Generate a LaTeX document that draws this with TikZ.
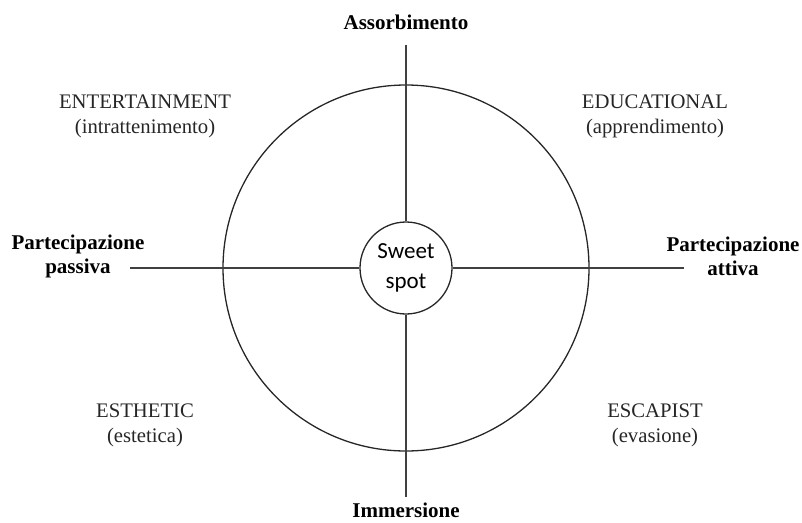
\documentclass[tikz,border=0pt]{standalone}
\usepackage{fontspec}
\setmainfont{Liberation Serif}
\newfontfamily\labelsans{Carlito}
\begin{document}
\begin{tikzpicture}[x=1pt,y=-1pt,
  axis/.style={draw=black!75, line width=1.3pt},
  ring/.style={draw=black!85, line width=1.3pt},
  quadrant/.style={align=center, font=\fontsize{20.7}{25}\selectfont, text=black!85},
  pole/.style={align=center, font=\fontsize{21}{24}\selectfont\bfseries, text=black},
]
\useasboundingbox (0,0) rectangle (802,522);
\coordinate (O) at (406,268);
% axes
\coordinate (top) at (406,45);
\coordinate (bot) at (406,497);
\coordinate (lft) at (130,268);
\coordinate (rgt) at (684,268);
\draw[ring] (O) circle[radius=183];
\node[circle, ring, fill=white, minimum size=92pt, inner sep=0pt, align=center,
      font=\labelsans\fontsize{23}{30}\selectfont] (sweet) at (O) {Sweet\\spot};
\draw[axis] (top) -- (sweet.north);
\draw[axis] (sweet.south) -- (bot);
\draw[axis] (lft) -- (sweet.west);
\draw[axis] (sweet.east) -- (rgt);
% pole labels
\node[pole] (assorb) at (406,22) {Assorbimento};
\node[pole] (immers) at (406,510) {Immersione};
\node[pole] (passiva) at (78,256) {Partecipazione\\passiva};
\node[pole] (attiva) at (733,256) {Partecipazione\\attiva};
% quadrant labels
\node[quadrant] (ent) at (145,116) {ENTERTAINMENT\\(intrattenimento)};
\node[quadrant] (edu) at (655,116) {EDUCATIONAL\\(apprendimento)};
\node[quadrant] (est) at (145,425) {ESTHETIC\\(estetica)};
\node[quadrant] (esc) at (655,425) {ESCAPIST\\(evasione)};
\end{tikzpicture}
\end{document}
